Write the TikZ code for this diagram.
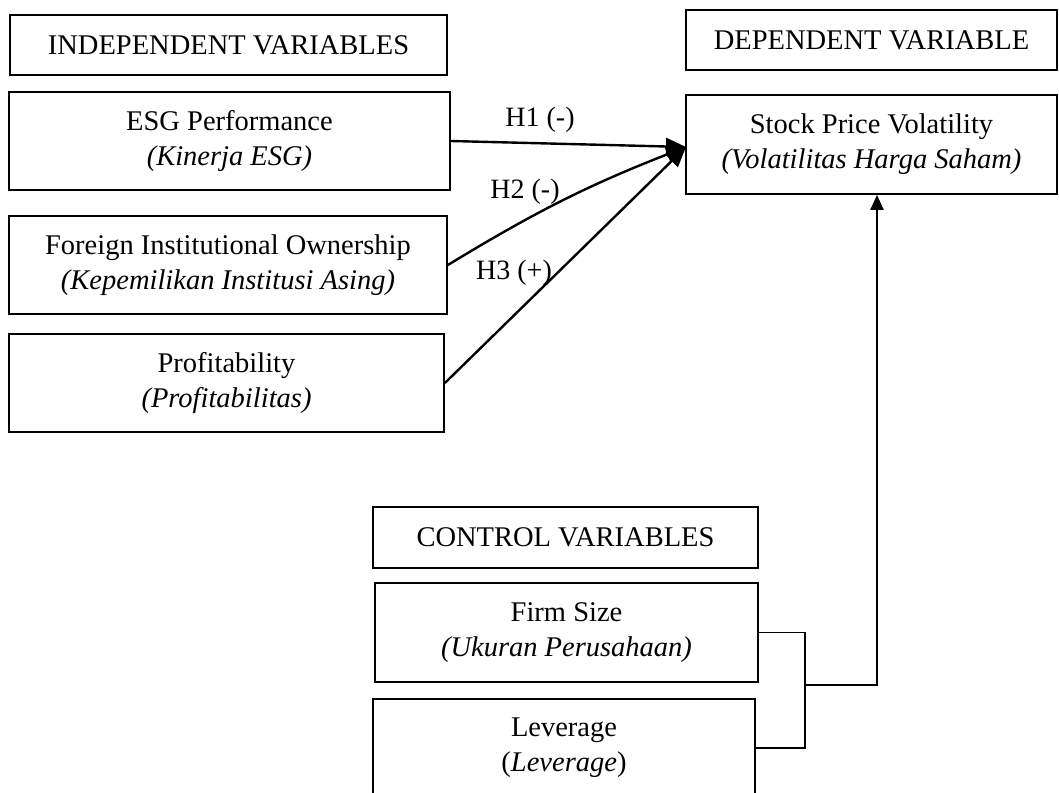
\documentclass[tikz,border=0pt]{standalone}
\usepackage{fontspec}
\setmainfont{Liberation Serif}
\usetikzlibrary{arrows.meta}
\begin{document}
\begin{tikzpicture}[x=1pt,y=-1pt,
  box/.style={draw,line width=1.8pt,inner sep=0pt,align=center,font=\fontsize{28.5}{35}\selectfont},
  lbl/.style={inner sep=0pt,font=\fontsize{28}{30}\selectfont},
  harrow/.style={line width=2.4pt,-{Triangle[length=20pt,width=17pt]}},
  varrow/.style={line width=2.2pt,-{Triangle[length=15pt,width=13pt]}},
  link/.style={line width=1.8pt}]
\useasboundingbox[fill=white] (0,0) rectangle (1059,792);
\node[box,minimum width=437pt,minimum height=60pt] (indep) at (228.5,45) {INDEPENDENT VARIABLES};
\node[box,minimum width=441pt,minimum height=98pt] (esg) at (229.5,141) {ESG Performance\\\textit{(Kinerja ESG)}};
\node[box,minimum width=438pt,minimum height=98pt] (fio) at (228,265) {Foreign Institutional Ownership\\\textit{(Kepemilikan Institusi Asing)}};
\node[box,minimum width=435pt,minimum height=98pt] (prof) at (226.5,383) {Profitability\\\textit{(Profitabilitas)}};
\node[box,minimum width=371pt,minimum height=60pt] (dep) at (871.5,40) {DEPENDENT VARIABLE};
\node[box,minimum width=371pt,minimum height=99pt] (spv) at (871.5,144.5) {Stock Price Volatility\\\textit{(Volatilitas Harga Saham)}};
\node[box,minimum width=385pt,minimum height=61pt] (ctrl) at (565.5,537.5) {CONTROL VARIABLES};
\node[box,minimum width=383pt,minimum height=99pt] (fsize) at (566.5,632.5) {Firm Size\\\textit{(Ukuran Perusahaan)}};
\node[box,minimum width=382pt,minimum height=98pt] (lev) at (564,748) {Leverage\\(\textit{Leverage})};
\coordinate (tgt) at (686,147);
\coordinate (j1) at (805,632.5);
\coordinate (j2) at (805,748);
\coordinate (jm) at (805,685);
\coordinate (jv) at (877,685);
\draw[harrow] (esg.east) -- (tgt);
\draw[harrow] (fio.east) to[bend left=5] (tgt);
\draw[harrow] (prof.east) -- (tgt);
\node[lbl] (h1) at (540,120) {H1 (-)};
\node[lbl] (h2) at (525,192) {H2 (-)};
\node[lbl] (h3) at (514,273) {H3 (+)};
\draw[link] (fsize.east) -- (j1) -- (j2) -- (lev.east);
\draw[varrow] (jm) -- (jv) -- (jv |- spv.south);
\end{tikzpicture}
\end{document}
